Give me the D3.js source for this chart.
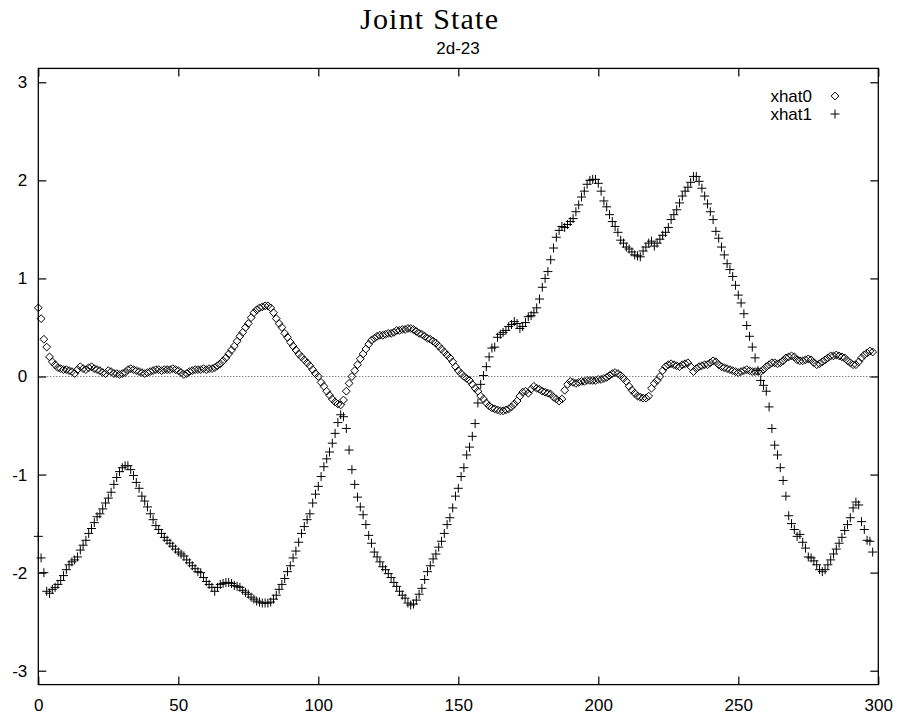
<!DOCTYPE html>
<html>
<head>
<meta charset="utf-8">
<script src="https://d3js.org/d3.v7.min.js"></script>
<style>
  html, body { margin: 0; padding: 0; background: #fff; }
  svg { display: block; }
  .tick text { font-family: "Liberation Sans", Arial, sans-serif; font-size: 17px; fill: #000; }
</style>
</head>
<body>
<svg id="chart" width="898" height="719"></svg>
<script>
// Joint state estimates, one sample per step
const steps = d3.range(0, 299);

const xhat0 = [
  0.70,0.59,0.38,0.30,0.20,0.15,0.12,0.09,0.08,0.07,
  0.07,0.06,0.05,0.03,0.07,0.10,0.08,0.07,0.09,0.10,
  0.08,0.07,0.06,0.04,0.03,0.06,0.05,0.03,0.03,0.02,
  0.03,0.04,0.07,0.08,0.07,0.06,0.05,0.04,0.03,0.04,
  0.05,0.06,0.07,0.07,0.06,0.07,0.07,0.07,0.08,0.07,
  0.06,0.04,0.02,0.03,0.05,0.06,0.07,0.07,0.07,0.08,
  0.07,0.08,0.08,0.09,0.11,0.13,0.16,0.19,0.23,0.27,
  0.31,0.36,0.41,0.45,0.50,0.54,0.60,0.65,0.68,0.70,
  0.71,0.72,0.72,0.70,0.65,0.59,0.54,0.50,0.44,0.40,
  0.35,0.31,0.27,0.23,0.20,0.17,0.14,0.11,0.07,0.03,
  0.00,-0.06,-0.10,-0.15,-0.19,-0.23,-0.26,-0.28,-0.29,-0.24,
  -0.15,-0.07,0.00,0.06,0.12,0.18,0.23,0.28,0.33,0.37,
  0.39,0.41,0.42,0.42,0.43,0.44,0.44,0.45,0.47,0.47,
  0.48,0.48,0.49,0.49,0.48,0.46,0.44,0.43,0.41,0.39,
  0.38,0.36,0.34,0.31,0.28,0.25,0.22,0.19,0.15,0.10,
  0.06,0.03,0.00,-0.02,-0.04,-0.08,-0.12,-0.15,-0.20,-0.23,
  -0.27,-0.30,-0.32,-0.33,-0.34,-0.35,-0.35,-0.34,-0.33,-0.31,
  -0.28,-0.25,-0.20,-0.16,-0.15,-0.17,-0.13,-0.10,-0.12,-0.13,
  -0.15,-0.16,-0.17,-0.18,-0.21,-0.23,-0.25,-0.23,-0.14,-0.08,
  -0.05,-0.06,-0.07,-0.06,-0.05,-0.05,-0.04,-0.04,-0.04,-0.04,
  -0.03,-0.03,-0.02,-0.01,0.01,0.03,0.04,0.03,0.01,-0.02,
  -0.05,-0.10,-0.14,-0.17,-0.20,-0.21,-0.22,-0.22,-0.20,-0.12,
  -0.07,-0.04,0.00,0.06,0.10,0.12,0.13,0.12,0.11,0.10,
  0.12,0.13,0.14,0.10,0.05,0.08,0.10,0.11,0.12,0.12,
  0.14,0.16,0.15,0.12,0.10,0.09,0.08,0.07,0.06,0.05,
  0.04,0.05,0.06,0.07,0.06,0.05,0.05,0.05,0.05,0.07,
  0.10,0.12,0.14,0.14,0.13,0.14,0.16,0.19,0.20,0.21,
  0.20,0.17,0.16,0.16,0.17,0.18,0.17,0.14,0.12,0.13,
  0.15,0.17,0.19,0.21,0.21,0.22,0.21,0.20,0.19,0.16,
  0.14,0.12,0.12,0.15,0.19,0.22,0.24,0.26,0.25
];

const xhat1 = [
  -1.63,-1.85,-2.00,-2.19,-2.21,-2.17,-2.15,-2.12,-2.08,-2.03,
  -1.97,-1.92,-1.89,-1.87,-1.84,-1.77,-1.72,-1.67,-1.60,-1.55,
  -1.49,-1.43,-1.40,-1.35,-1.29,-1.24,-1.18,-1.10,-1.03,-0.97,
  -0.93,-0.91,-0.91,-0.95,-1.01,-1.08,-1.14,-1.22,-1.27,-1.33,
  -1.40,-1.46,-1.52,-1.56,-1.60,-1.64,-1.67,-1.70,-1.73,-1.76,
  -1.79,-1.81,-1.83,-1.87,-1.90,-1.93,-1.96,-1.99,-2.00,-2.05,
  -2.09,-2.12,-2.15,-2.19,-2.15,-2.12,-2.11,-2.10,-2.10,-2.11,
  -2.13,-2.14,-2.15,-2.18,-2.20,-2.22,-2.25,-2.27,-2.29,-2.30,
  -2.31,-2.31,-2.31,-2.30,-2.27,-2.23,-2.17,-2.12,-2.06,-1.99,
  -1.93,-1.85,-1.78,-1.69,-1.60,-1.53,-1.46,-1.40,-1.29,-1.20,
  -1.12,-1.02,-0.92,-0.84,-0.77,-0.68,-0.58,-0.47,-0.39,-0.41,
  -0.53,-0.75,-0.95,-1.10,-1.23,-1.33,-1.41,-1.51,-1.62,-1.70,
  -1.79,-1.84,-1.89,-1.94,-1.97,-2.01,-2.05,-2.10,-2.14,-2.19,
  -2.23,-2.26,-2.31,-2.33,-2.32,-2.28,-2.22,-2.16,-2.07,-1.99,
  -1.93,-1.86,-1.81,-1.74,-1.68,-1.60,-1.51,-1.44,-1.34,-1.22,
  -1.14,-1.02,-0.93,-0.80,-0.72,-0.61,-0.48,-0.27,-0.08,0.01,
  0.10,0.20,0.29,0.30,0.40,0.43,0.45,0.47,0.51,0.53,
  0.56,0.54,0.49,0.51,0.55,0.61,0.62,0.65,0.70,0.79,
  0.91,1.00,1.07,1.19,1.31,1.42,1.49,1.53,1.52,1.55,
  1.58,1.61,1.68,1.75,1.83,1.89,1.96,2.00,2.01,2.01,
  1.97,1.89,1.79,1.73,1.65,1.58,1.53,1.47,1.39,1.36,
  1.32,1.30,1.27,1.24,1.23,1.22,1.28,1.32,1.36,1.38,
  1.33,1.36,1.40,1.44,1.47,1.52,1.60,1.65,1.70,1.77,
  1.84,1.89,1.93,1.98,2.04,2.04,1.99,1.92,1.84,1.76,
  1.68,1.60,1.48,1.41,1.32,1.24,1.15,1.09,1.02,0.93,
  0.83,0.75,0.64,0.52,0.41,0.30,0.19,0.06,-0.04,-0.09,
  -0.15,-0.31,-0.53,-0.70,-0.80,-0.93,-1.06,-1.22,-1.42,-1.50,
  -1.56,-1.63,-1.61,-1.69,-1.75,-1.84,-1.85,-1.88,-1.92,-1.97,
  -1.99,-1.97,-1.92,-1.87,-1.81,-1.76,-1.70,-1.64,-1.57,-1.51,
  -1.44,-1.34,-1.28,-1.31,-1.48,-1.56,-1.67,-1.68,-1.79
];

const xTicks = [0, 50, 100, 150, 200, 250, 300];
const yTicks = [-3, -2, -1, 0, 1, 2, 3];
const seriesNames = ["xhat0", "xhat1"];
const titleText = "Joint State";
const subtitleText = "2d-23";

// ---- layout ----
const W = 898, H = 719;
const plot = { left: 38.3, right: 878.3, top: 68.4, bottom: 684.6 };
const tickLen = 8;

const svg = d3.select("#chart");
svg.append("rect").attr("width", W).attr("height", H).attr("fill", "#fff");

const x = d3.scaleLinear().domain([0, 300]).range([plot.left, plot.right]);
const y = d3.scaleLinear().domain([-Math.PI, Math.PI]).range([plot.bottom, plot.top]);

// zero reference line
svg.append("line")
  .attr("x1", x(0)).attr("x2", x(300))
  .attr("y1", y(0)).attr("y2", y(0))
  .attr("stroke", "#555").attr("stroke-width", 1)
  .attr("stroke-dasharray", "1,2");

// plain hyphen-minus labels
const plainNum = d => String(d);

// axes: labelled bottom/left, mirrored ticks top/right
const axisBottom = d3.axisBottom(x).tickValues(xTicks).tickSize(-tickLen).tickPadding(14).tickFormat(plainNum);
const axisTop = d3.axisTop(x).tickValues(xTicks).tickSize(-tickLen).tickFormat("");
const axisLeft = d3.axisLeft(y).tickValues(yTicks).tickSize(-tickLen).tickPadding(11).tickFormat(plainNum);
const axisRight = d3.axisRight(y).tickValues(yTicks).tickSize(-tickLen).tickFormat("");

function styleAxis(g) {
  g.select(".domain").remove();
  g.selectAll(".tick line").attr("stroke", "#000").attr("stroke-width", 1.2);
}
svg.append("g").attr("transform", `translate(0,${plot.bottom})`).call(axisBottom).call(styleAxis);
svg.append("g").attr("transform", `translate(0,${plot.top})`).call(axisTop).call(styleAxis);
svg.append("g").attr("transform", `translate(${plot.left},0)`).call(axisLeft).call(styleAxis);
svg.append("g").attr("transform", `translate(${plot.right},0)`).call(axisRight).call(styleAxis);
svg.selectAll(".tick text").attr("font-family", null).attr("font-size", null);

// frame
svg.append("rect")
  .attr("x", plot.left).attr("y", plot.top)
  .attr("width", plot.right - plot.left).attr("height", plot.bottom - plot.top)
  .attr("fill", "none").attr("stroke", "#000").attr("stroke-width", 1.3);

// point markers
const diamondPath = r => `M0,${-r}L${r},0L0,${r}L${-r},0Z`;
const crossPath = r => `M${-r},0H${r}M0,${-r}V${r}`;

const marks = svg.append("g");
marks.append("g").selectAll("path")
  .data(steps)
  .join("path")
  .attr("transform", i => `translate(${x(i)},${y(xhat0[i])})`)
  .attr("d", diamondPath(3.9))
  .attr("fill", "none").attr("stroke", "#000").attr("stroke-width", 1);

marks.append("g").selectAll("path")
  .data(steps)
  .join("path")
  .attr("transform", i => `translate(${x(i)},${y(xhat1[i])})`)
  .attr("d", crossPath(4.5))
  .attr("fill", "none").attr("stroke", "#000").attr("stroke-width", 1);

// legend
const legend = svg.append("g").attr("font-family", "Liberation Sans, Arial, sans-serif").attr("font-size", 17);
const legendRows = [
  { name: seriesNames[0], path: diamondPath(3.9), cy: 96 },
  { name: seriesNames[1], path: crossPath(4.5), cy: 114 }
];
legendRows.forEach(r => {
  legend.append("text").attr("x", 812).attr("y", r.cy).attr("dy", "0.35em")
    .attr("text-anchor", "end").text(r.name);
  legend.append("path").attr("transform", `translate(835,${r.cy})`).attr("d", r.path)
    .attr("fill", "none").attr("stroke", "#000").attr("stroke-width", 1);
});

// titles
svg.append("text")
  .attr("x", 429).attr("y", 29).attr("text-anchor", "middle")
  .attr("font-family", "Liberation Serif, Times New Roman, serif").attr("font-size", 30)
  .attr("textLength", 138).attr("lengthAdjust", "spacing")
  .text(titleText);
svg.append("text")
  .attr("x", 458).attr("y", 54).attr("text-anchor", "middle")
  .attr("font-family", "Liberation Sans, Arial, sans-serif").attr("font-size", 17)
  .text(subtitleText);
</script>
</body>
</html>
